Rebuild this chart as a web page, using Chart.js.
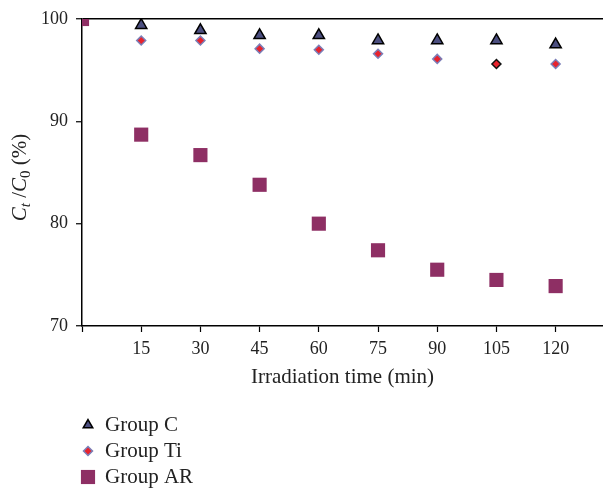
<!DOCTYPE html>
<html>
<head>
<meta charset="utf-8">
<script src="https://cdn.jsdelivr.net/npm/chart.js@4/dist/chart.umd.min.js"></script>
<style>
  html, body { margin: 0; padding: 0; background: #fff; overflow: hidden; }
  canvas { display: block; }
</style>
</head>
<body>
<canvas id="chart" width="603" height="490"></canvas>
<script>
// minutes of irradiation
const times = [0, 15, 30, 45, 60, 75, 90, 105, 120];
const xTicks = [0, 15, 30, 45, 60, 75, 90, 105, 120];
const yTicks = [70, 80, 90, 100];

// Ct/C0 in %
const groupC = [100, 99.4, 98.9, 98.4, 98.4, 97.9, 97.9, 97.9, 97.5];
const groupTi = [100, 97.9, 97.9, 97.1, 97.0, 96.6, 96.1, 95.6, 95.6];
const groupAR = [100, 88.7, 86.7, 83.8, 80.0, 77.4, 75.5, 74.5, 73.9];

const serif = "'Liberation Serif', 'DejaVu Serif', serif";

function toPoints(vals) {
    return vals.map((v, i) => ({ x: times[i], y: v }));
}

// y title with italic C and subscripts
const yTitlePlugin = {
    id: 'yTitle',
    afterDraw(chart) {
        const ctx = chart.ctx;
        const area = chart.chartArea;
        const parts = [
            { t: 'C', f: 'italic 21px ' + serif, dy: 0 },
            { t: 't', f: 'italic 15px ' + serif, dy: 6 },
            { t: ' /', f: '21px ' + serif, dy: 0 },
            { t: 'C', f: 'italic 21px ' + serif, dy: 0 },
            { t: '0', f: '15px ' + serif, dy: 6 },
            { t: ' (%)', f: '21px ' + serif, dy: 0 }
        ];
        ctx.save();
        let total = 0;
        parts.forEach(p => { ctx.font = p.f; p.w = ctx.measureText(p.t).width; total += p.w; });
        ctx.translate(20, (area.top + area.bottom) / 2 + 5);
        ctx.rotate(-Math.PI / 2);
        ctx.fillStyle = '#222';
        ctx.textBaseline = 'middle';
        let x = -total / 2;
        parts.forEach(p => {
            ctx.font = p.f;
            ctx.fillText(p.t, x, p.dy);
            x += p.w;
        });
        ctx.restore();
    }
};

// vertical legend below the axis title
const legendPlugin = {
    id: 'vLegend',
    afterDraw(chart) {
        const ctx = chart.ctx;
        const rows = [425, 451, 477];
        chart.data.datasets.forEach(ds => {
            const y = rows[ds.legendRow];
            ctx.save();
            ctx.fillStyle = ds.pointBackgroundColor;
            ctx.strokeStyle = ds.legendBorder;
            ctx.lineWidth = ds.pointBorderWidth;
            Chart.helpers.drawPoint(ctx, {
                pointStyle: ds.pointStyle,
                rotation: 0,
                radius: ds.legendRadius,
                borderWidth: ds.pointBorderWidth
            }, 88, y);
            ctx.fillStyle = '#222';
            ctx.font = '21px ' + serif;
            ctx.textBaseline = 'middle';
            ctx.fillText(ds.label, 105, y);
            ctx.restore();
        });
    }
};

const ctx = document.getElementById('chart').getContext('2d');
new Chart(ctx, {
    type: 'scatter',
    data: {
        datasets: [
            {
                label: 'Group AR',
                data: toPoints(groupAR),
                pointStyle: 'rect',
                pointRadius: 10,
                pointHoverRadius: 10,
                pointBackgroundColor: '#8e2f64',
                pointBorderColor: '#8e2f64',
                pointBorderWidth: 0,
                legendBorder: '#8e2f64',
                legendRow: 2,
                legendRadius: 10
            },
            {
                label: 'Group Ti',
                data: toPoints(groupTi),
                pointStyle: 'rectRot',
                pointRadius: 4.5,
                pointHoverRadius: 4.5,
                pointBackgroundColor: '#e8232d',
                pointBorderColor: ['#7b7fb8', '#7b7fb8', '#7b7fb8', '#7b7fb8', '#7b7fb8', '#7b7fb8', '#7b7fb8', '#111', '#7b7fb8'],
                pointBorderWidth: 1.5,
                legendBorder: '#7b7fb8',
                legendRow: 1,
                legendRadius: 4.5
            },
            {
                label: 'Group C',
                data: toPoints(groupC),
                pointStyle: 'triangle',
                pointRadius: 6.5,
                pointHoverRadius: 6.5,
                pointBackgroundColor: '#4c4f80',
                pointBorderColor: '#000',
                pointBorderWidth: 1.5,
                legendBorder: '#000',
                legendRow: 0,
                legendRadius: 5.5
            }
        ]
    },
    options: {
        responsive: false,
        animation: false,
        layout: {
            autoPadding: false,
            padding: { top: 19, right: 0, bottom: 100, left: 0 }
        },
        plugins: {
            legend: { display: false },
            tooltip: { enabled: false }
        },
        scales: {
            x: {
                type: 'linear',
                min: 0,
                max: 132,
                afterBuildTicks: axis => { axis.ticks = xTicks.map(v => ({ value: v })); },
                afterFit: axis => {
                    axis.height = 64;
                    axis.paddingLeft = 0;
                    axis.paddingRight = 0;
                },
                border: { display: true, color: '#000', width: 1.5 },
                grid: { drawOnChartArea: false, drawTicks: true, tickLength: 6, tickColor: '#000', tickWidth: 1.2 },
                ticks: {
                    color: '#222',
                    padding: 6,
                    maxRotation: 0,
                    font: { family: serif, size: 18 },
                    callback: v => (v === 0 ? '' : v)
                },
                title: {
                    display: true,
                    text: 'Irradiation time (min)',
                    color: '#222',
                    font: { family: serif, size: 21 },
                    padding: { top: 9, bottom: 0 }
                }
            },
            y: {
                min: 70,
                max: 100,
                afterBuildTicks: axis => { axis.ticks = yTicks.map(v => ({ value: v })); },
                afterFit: axis => { axis.width = 82; },
                border: { display: true, color: '#000', width: 1.5 },
                grid: {
                    drawOnChartArea: true,
                    color: c => (c.tick && c.tick.value === 100 ? '#000' : 'rgba(0,0,0,0)'),
                    lineWidth: 1.5,
                    drawTicks: true,
                    tickLength: 6,
                    tickColor: '#000',
                    tickWidth: 1.2
                },
                ticks: {
                    color: '#222',
                    padding: 8,
                    font: { family: serif, size: 18 }
                }
            }
        }
    },
    plugins: [yTitlePlugin, legendPlugin]
});
</script>
</body>
</html>
